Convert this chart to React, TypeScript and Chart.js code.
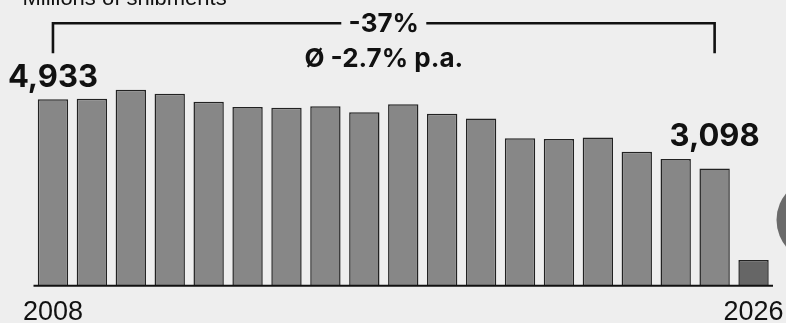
import React, { useEffect, useRef } from "react";
import { Chart, registerables } from "chart.js";

Chart.register(...registerables);

// Annual shipment volumes (millions)
const years = [
  "2008", "2009", "2010", "2011", "2012", "2013", "2014", "2015", "2016", "2017",
  "2018", "2019", "2020", "2021", "2022", "2023", "2024", "2025", "2026",
];
const shipments = [
  4933, 4950, 5190, 5080, 4870, 4730, 4710, 4750, 4590, 4800,
  4550, 4420, 3900, 3880, 3920, 3540, 3350, 3098, 665,
];
const axisYears = ["2008", "2026"];
const startYear = "2008";
const endYear = "2025";
const totalChange = "-37%";
const annualChange = "Ø -2.7% p.a.";
const unitCaption = "Millions of shipments";

const W = 786;
const H = 323;

const BG = "#eeeeee";
const BAR = "#878787";
const BAR_LAST = "#666666";
const INK = "#111111";

const fmt = (v: number) => v.toLocaleString("en-US");

const overlay = {
  id: "overlay",
  beforeDraw(chart: any) {
    const { ctx } = chart;
    ctx.save();
    ctx.fillStyle = BG;
    ctx.fillRect(0, 0, chart.width, chart.height);
    ctx.restore();
  },
  afterDraw(chart: any) {
    const { ctx, chartArea } = chart;
    const x = chart.scales.x;
    const y = chart.scales.y;
    ctx.save();

    // baseline
    ctx.strokeStyle = INK;
    ctx.lineWidth = 2;
    ctx.beginPath();
    ctx.moveTo(chartArea.left, chartArea.bottom + 0.8);
    ctx.lineTo(chartArea.right, chartArea.bottom + 0.8);
    ctx.stroke();

    // first / last year labels
    ctx.fillStyle = INK;
    ctx.font = "27px 'Liberation Sans', Arial, sans-serif";
    ctx.textAlign = "center";
    ctx.textBaseline = "alphabetic";
    axisYears.forEach((yr) => {
      const i = years.indexOf(yr);
      ctx.fillText(yr, x.getPixelForValue(i), 320);
    });

    // value labels
    const i0 = years.indexOf(startYear);
    const i1 = years.indexOf(endYear);
    const x0 = x.getPixelForValue(i0);
    const x1 = x.getPixelForValue(i1);
    ctx.font = "bold 31px Inter, sans-serif";
    ctx.fillText(fmt(shipments[i0]), x0, y.getPixelForValue(shipments[i0]) - 12);
    ctx.fillText(fmt(shipments[i1]), x1, y.getPixelForValue(shipments[i1]) - 22.5);

    // bracket with change annotation
    const by = 23.3;
    const bBottom = 53.3;
    const mid = (x0 + x1) / 2;
    ctx.strokeStyle = INK;
    ctx.lineWidth = 2.6;
    ctx.beginPath();
    ctx.moveTo(x0, bBottom);
    ctx.lineTo(x0, by);
    ctx.lineTo(mid - 42.5, by);
    ctx.moveTo(mid + 42.5, by);
    ctx.lineTo(x1, by);
    ctx.lineTo(x1, bBottom);
    ctx.stroke();

    ctx.font = "bold 26px Inter, sans-serif";
    ctx.fillText(totalChange, mid, 32);
    ctx.fillText(annualChange, mid, 67);

    // unit caption
    ctx.save();
    ctx.beginPath();
    ctx.rect(0, 0, W, 5);
    ctx.clip();
    ctx.textAlign = "left";
    ctx.font = "22px 'Liberation Sans', Arial, sans-serif";
    ctx.fillStyle = INK;
    ctx.fillText(unitCaption, 22.5, 4.5);
    ctx.restore();

    // round marker at right edge
    ctx.fillStyle = "#6a6a6a";
    ctx.beginPath();
    ctx.arc(818, 220, 41.5, 0, Math.PI * 2);
    ctx.fill();

    ctx.restore();
  },
};

export default function App() {
  const ref = useRef<HTMLCanvasElement | null>(null);

  useEffect(() => {
    if (!ref.current) return;
    const chart = new Chart(ref.current, {
      type: "bar",
      data: {
        labels: years,
        datasets: [
          {
            data: shipments,
            backgroundColor: shipments.map((_, i) => (i === shipments.length - 1 ? BAR_LAST : BAR)),
            borderColor: "#222222",
            borderWidth: 1.5,
            barPercentage: 0.78,
            categoryPercentage: 1,
          },
        ],
      },
      options: {
        responsive: false,
        animation: false,
        devicePixelRatio: 1,
        layout: { padding: { left: 33.5, right: 13, top: 21.5, bottom: 38 } },
        plugins: {
          legend: { display: false },
          tooltip: { enabled: false },
        },
        scales: {
          x: { display: false },
          y: { display: false, min: 0, max: 7000 },
        },
      },
      plugins: [overlay],
    });
    return () => chart.destroy();
  }, []);

  return (
    <div style={{ position: "fixed", left: 0, top: 0, width: W, height: H, background: BG }}>
      <canvas ref={ref} width={W} height={H} style={{ display: "block" }} />
    </div>
  );
}
